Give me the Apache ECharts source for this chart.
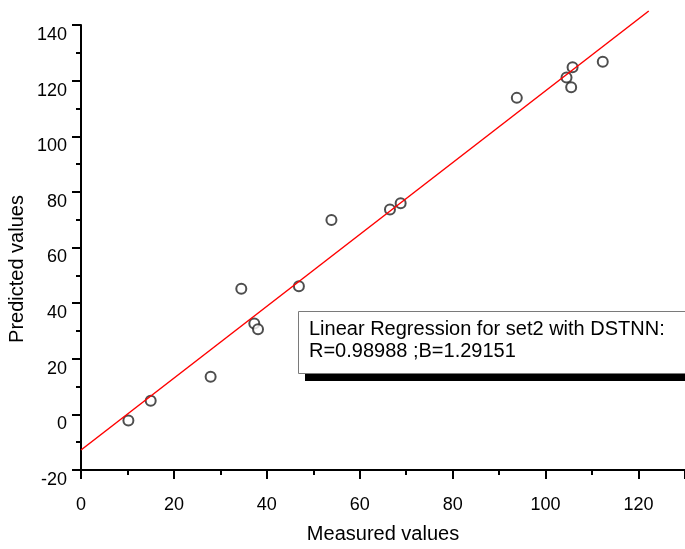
<!DOCTYPE html>
<html>
<head>
<meta charset="utf-8">
<script src="https://cdn.jsdelivr.net/npm/echarts@6/dist/echarts.min.js"></script>
<style>
  html, body { margin: 0; padding: 0; background: #fff; }
  #main { width: 685px; height: 549px; }
</style>
</head>
<body>
<div id="main"></div>
<script>
// measured vs predicted
const measured = [10.2, 15.0, 27.9, 34.5, 37.3, 38.1, 46.9, 53.9, 66.5, 68.8, 93.8, 104.5, 105.8, 105.5, 112.3];
const predicted = [-2.2, 4.9, 13.5, 45.2, 32.7, 30.6, 46.1, 69.9, 73.7, 75.9, 113.8, 121.1, 124.8, 117.6, 126.8];

// regression line: intercept, slope (B) and its x range
const intercept = -12.8;
const slope = 1.29151;
const lineX = [0, 122.2];

const xTicks = [0, 20, 40, 60, 80, 100, 120];
const yTicks = [-20, 0, 20, 40, 60, 80, 100, 120, 140];

const fitText = 'Linear Regression for set2 with DSTNN:\nR=0.98988 ;B=1.29151';

const font = 'Liberation Sans, Arial, sans-serif';

const points = measured.map((x, i) => [x, predicted[i]]);
const fitLine = lineX.map(x => [x, intercept + slope * x]);

const dom = document.getElementById('main');
const myChart = echarts.init(dom, null, { renderer: 'canvas' });

const axisCommon = {
  type: 'value',
  interval: 20,
  axisLine: { show: true, onZero: false, lineStyle: { color: '#000', width: 2 } },
  axisTick: { show: true, inside: false, length: 9, lineStyle: { color: '#000', width: 2 } },
  minorTick: { show: true, splitNumber: 2, length: 5, lineStyle: { color: '#000', width: 2 } },
  splitLine: { show: false },
  minorSplitLine: { show: false }
};

myChart.setOption({
  backgroundColor: '#fff',
  animation: false,
  grid: { left: 81, top: 25, width: 605, height: 445, containLabel: false },
  xAxis: Object.assign({}, axisCommon, {
    min: xTicks[0],
    max: 130,
    name: 'Measured values',
    nameLocation: 'middle',
    nameGap: 54,
    nameTextStyle: { color: '#000', fontSize: 20, fontFamily: font },
    axisLabel: {
      color: '#000', fontSize: 18, fontFamily: font, margin: 26,
      showMaxLabel: false,
      formatter: v => (xTicks.indexOf(v) >= 0 ? String(v) : '')
    }
  }),
  yAxis: Object.assign({}, axisCommon, {
    min: yTicks[0],
    max: yTicks[yTicks.length - 1],
    axisLabel: {
      color: '#000', fontSize: 18, fontFamily: font, margin: 14,
      verticalAlign: 'top',
      padding: [1, 0, 0, 0]
    }
  }),
  graphic: [
    {
      type: 'text',
      x: 17, y: 269,
      rotation: Math.PI / 2,
      style: {
        text: 'Predicted values', fill: '#000', font: '20px ' + font,
        align: 'center', verticalAlign: 'middle'
      }
    },
    {
      type: 'rect',
      shape: { x: 305, y: 374, width: 400, height: 7 },
      style: { fill: '#000' },
      z: 100
    },
    {
      type: 'rect',
      shape: { x: 298.5, y: 311.5, width: 400, height: 62 },
      style: { fill: '#fff', stroke: '#7a7a7a', lineWidth: 1 },
      z: 101
    },
    {
      type: 'text',
      x: 309, y: 318,
      style: {
        text: fitText, fill: '#000', font: '20px ' + font,
        lineHeight: 22.6, align: 'left', verticalAlign: 'top'
      },
      z: 102
    }
  ],
  series: [
    {
      type: 'scatter',
      data: points,
      symbol: 'emptyCircle',
      symbolSize: 10,
      itemStyle: { color: '#222', borderColor: '#222', borderWidth: 1 },
      z: 2
    },
    {
      type: 'line',
      data: fitLine,
      clip: false,
      showSymbol: false,
      symbol: 'none',
      lineStyle: { color: '#ff0000', width: 1.5 },
      z: 3
    }
  ]
});
</script>
</body>
</html>
